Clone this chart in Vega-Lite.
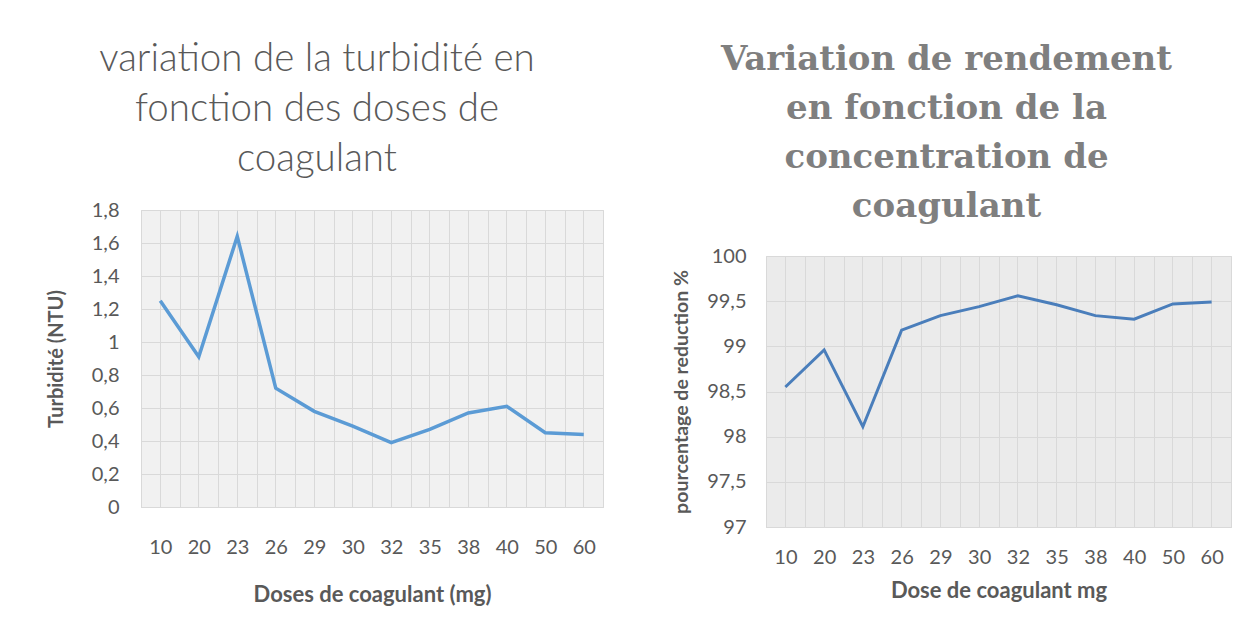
{
  "$schema": "https://vega.github.io/schema/vega-lite/v6.json",
  "background": "white",
  "padding": {"left": 45, "top": 30, "right": 5, "bottom": 5},
  "spacing": 67,
  "config": {
    "font": "Lato",
    "view": {"stroke": "#d9d9d9"}
  },
  "datasets": {
    "turb": [
      {"dose": 10, "turbidite": 1.25},
      {"dose": 20, "turbidite": 0.91},
      {"dose": 23, "turbidite": 1.64},
      {"dose": 26, "turbidite": 0.72},
      {"dose": 29, "turbidite": 0.58},
      {"dose": 30, "turbidite": 0.49},
      {"dose": 32, "turbidite": 0.39},
      {"dose": 35, "turbidite": 0.47},
      {"dose": 38, "turbidite": 0.57},
      {"dose": 40, "turbidite": 0.61},
      {"dose": 50, "turbidite": 0.45},
      {"dose": 60, "turbidite": 0.44}
    ],
    "rend": [
      {"dose": 10, "rendement": 98.55},
      {"dose": 20, "rendement": 98.96},
      {"dose": 23, "rendement": 98.11},
      {"dose": 26, "rendement": 99.18},
      {"dose": 29, "rendement": 99.34},
      {"dose": 30, "rendement": 99.44},
      {"dose": 32, "rendement": 99.56},
      {"dose": 35, "rendement": 99.46},
      {"dose": 38, "rendement": 99.34},
      {"dose": 40, "rendement": 99.30},
      {"dose": 50, "rendement": 99.47},
      {"dose": 60, "rendement": 99.49}
    ]
  },
  "hconcat": [
    {
      "spacing": 20,
      "vconcat": [
        {
          "width": 462,
          "height": 1,
          "view": {"fill": null, "stroke": null},
          "data": {"name": "turb"},
          "mark": {"type": "point", "opacity": 0},
          "encoding": {},
          "title": {
            "text": ["variation de la turbidité en", "fonction des doses de", "coagulant"],
            "orient": "bottom",
            "font": "Lato",
            "fontWeight": 300,
            "fontSize": 38.5,
            "lineHeight": 50,
            "color": "#595959",
            "anchor": "middle",
            "frame": "group",
            "dx": -55,
            "offset": 5
          }
        },
        {
          "width": 462,
          "height": 297,
          "view": {"fill": "#f1f1f1", "stroke": "#d9d9d9"},
          "data": {"name": "turb"},
          "resolve": {"axis": {"x": "independent"}},
          "layer": [
            {
              "mark": {"type": "point", "opacity": 0},
              "encoding": {
                "x": {
                  "field": "dose", "type": "ordinal",
                  "scale": {"type": "band", "paddingInner": 0, "paddingOuter": 0},
                  "bandPosition": 0.5,
                  "axis": {"orient": "top", "labels": false, "ticks": false, "domain": false, "grid": true, "gridColor": "#d9d9d9", "title": null}
                }
              }
            },
            {
              "mark": {"type": "line", "color": "#5b9bd5", "strokeWidth": 3.5},
              "encoding": {
                "x": {
                  "field": "dose", "type": "ordinal",
                  "scale": {"type": "band", "paddingInner": 0, "paddingOuter": 0},
                  "bandPosition": 0.5,
                  "axis": {
                    "title": "Doses de coagulant (mg)",
                    "labelAngle": 0,
                    "labelFont": "Lato",
                    "labelFontSize": 20,
                    "labelColor": "#595959",
                    "labelPadding": 30,
                    "ticks": false,
                    "domain": true,
                    "domainColor": "#d9d9d9",
                    "grid": true,
                    "tickBand": "extent",
                    "gridColor": "#d9d9d9",
                    "titleFont": "Lato",
                    "titleFontSize": 22,
                    "titleFontWeight": "bold",
                    "titleColor": "#595959",
                    "titlePadding": 27
                  }
                },
                "y": {
                  "field": "turbidite", "type": "quantitative",
                  "scale": {"domain": [0, 1.8]},
                  "axis": {
                    "title": "Turbidité (NTU)",
                    "values": [0, 0.2, 0.4, 0.6, 0.8, 1, 1.2, 1.4, 1.6, 1.8],
                    "labelExpr": "replace(toString(round(datum.value*10)/10), '.', ',')",
                    "labelFont": "Lato",
                    "labelFontSize": 20,
                    "labelColor": "#595959",
                    "labelPadding": 22,
                    "ticks": false,
                    "domain": false,
                    "grid": true,
                    "gridColor": "#d9d9d9",
                    "titleFont": "Lato",
                    "titleFontSize": 20,
                    "titleFontWeight": "bold",
                    "titleColor": "#595959",
                    "titlePadding": 25
                  }
                }
              }
            }
          ]
        }
      ]
    },
    {
      "spacing": 20,
      "vconcat": [
        {
          "width": 465,
          "height": 1,
          "view": {"fill": null, "stroke": null},
          "data": {"name": "rend"},
          "mark": {"type": "point", "opacity": 0},
          "encoding": {},
          "title": {
            "text": ["Variation de rendement", "en fonction de la", "concentration de", "coagulant"],
            "orient": "bottom",
            "font": "DejaVu Serif",
            "fontWeight": "bold",
            "fontSize": 34,
            "lineHeight": 49,
            "color": "#7f7f7f",
            "anchor": "middle",
            "frame": "group",
            "dx": -52,
            "offset": 7
          }
        },
        {
          "width": 465,
          "height": 271,
          "view": {"fill": "#ebebeb", "stroke": "#d9d9d9"},
          "data": {"name": "rend"},
          "resolve": {"axis": {"x": "independent"}},
          "layer": [
            {
              "mark": {"type": "point", "opacity": 0},
              "encoding": {
                "x": {
                  "field": "dose", "type": "ordinal",
                  "scale": {"type": "band", "paddingInner": 0, "paddingOuter": 0},
                  "bandPosition": 0.5,
                  "axis": {"orient": "top", "labels": false, "ticks": false, "domain": false, "grid": true, "gridColor": "#d9d9d9", "title": null}
                }
              }
            },
            {
              "mark": {"type": "line", "color": "#4a7ebb", "strokeWidth": 3},
              "encoding": {
                "x": {
                  "field": "dose", "type": "ordinal",
                  "scale": {"type": "band", "paddingInner": 0, "paddingOuter": 0},
                  "bandPosition": 0.5,
                  "axis": {
                    "title": "Dose de coagulant mg",
                    "labelAngle": 0,
                    "labelFont": "Lato",
                    "labelFontSize": 20,
                    "labelColor": "#595959",
                    "labelPadding": 20,
                    "ticks": false,
                    "domain": true,
                    "domainColor": "#d9d9d9",
                    "grid": true,
                    "tickBand": "extent",
                    "gridColor": "#d9d9d9",
                    "titleFont": "Lato",
                    "titleFontSize": 22,
                    "titleFontWeight": "bold",
                    "titleColor": "#595959",
                    "titlePadding": 13
                  }
                },
                "y": {
                  "field": "rendement", "type": "quantitative",
                  "scale": {"domain": [97, 100]},
                  "axis": {
                    "title": "pourcentage de reduction %",
                    "values": [97, 97.5, 98, 98.5, 99, 99.5, 100],
                    "labelExpr": "replace(toString(round(datum.value*10)/10), '.', ',')",
                    "labelFont": "Lato",
                    "labelFontSize": 20,
                    "labelColor": "#595959",
                    "labelPadding": 20,
                    "ticks": false,
                    "domain": false,
                    "grid": true,
                    "gridColor": "#d9d9d9",
                    "titleFont": "Lato",
                    "titleFontSize": 19.5,
                    "titleFontWeight": "bold",
                    "titleColor": "#595959",
                    "titlePadding": 15
                  }
                }
              }
            }
          ]
        }
      ]
    }
  ]
}
